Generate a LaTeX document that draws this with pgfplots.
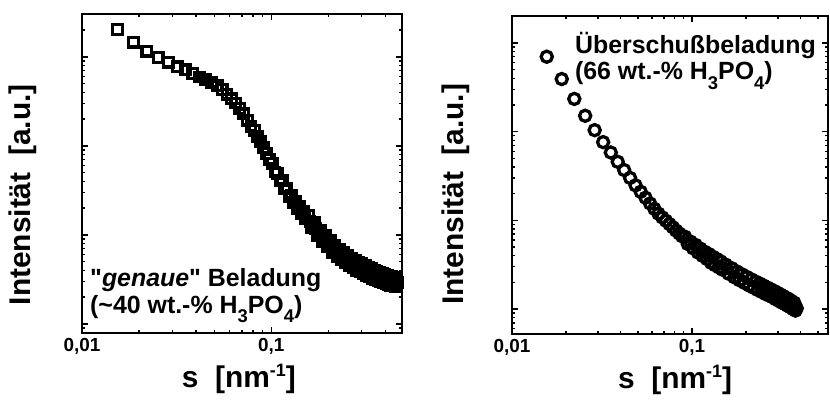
\documentclass[border=0pt]{standalone}
\usepackage{fontspec}
\setmainfont{Liberation Sans}
\usepackage{pgfplots}
\pgfplotsset{compat=1.18}

\newcommand\chemsub[1]{\raisebox{-9.5bp}{\fontsize{18.5}{18.5}\selectfont #1}}
\newcommand\notefont{\fontsize{25}{25}\selectfont\bfseries}

\pgfplotsset{saxs/.style={
  scale only axis,
  xtick={0.01,0.1}, xticklabels={{0,01},{0,1}},
  minor xtick={0.02,0.03,0.04,0.05,0.06,0.07,0.08,0.09,0.2,0.3,0.4,0.5},
  ytick={1,10,100,1000}, yticklabel=\empty,
  minor ytick={0.6,0.7,0.8,0.9,2,3,4,5,6,7,8,9,20,30,40,50,60,70,80,90,200,300,400,500,600,700,800,900,2000,3000},
  tick align=inside,
  axis line style={line width=2.2pt},
  major tick length=6pt, minor tick length=3.5pt,
  every tick/.style={black, line width=1.5pt},
  tick label style={font=\fontsize{19}{19}\selectfont\bfseries},
  xticklabel style={yshift=-2pt},
  label style={font=\fontsize{30}{30}\selectfont\bfseries},
  xlabel={s\ \ [nm\raisebox{11bp}{\fontsize{18}{18}\selectfont -1}]},
  ylabel={Intensität\ \ [a.u.]},
}}

\begin{document}
\begin{tikzpicture}
\useasboundingbox (0,0) rectangle (830bp,403bp);

% left panel: "genaue" Beladung
\begin{loglogaxis}[saxs, at={(82bp,70bp)}, anchor=south west,
  width=320bp, height=319bp,
  xmin=0.01, xmax=0.49, ymin=0.79, ymax=3040,
  ylabel style={at={(axis description cs:-0.184,0.433)}, anchor=center},
  xlabel style={at={(axis description cs:0.49,-0.172)}, anchor=base}]
\addplot[only marks, mark=square, mark size=4.8pt, black, line width=3.3pt] coordinates {
(0.0154,2042) (0.0187,1462) (0.0220,1161) (0.0253,989) (0.0286,871)
(0.0319,776) (0.0352,716) (0.0385,653) (0.0418,596) (0.0451,556)
(0.0484,519) (0.0517,473) (0.0550,432) (0.0583,380) (0.0616,339)
(0.0649,304) (0.0682,263) (0.0715,229) (0.0748,195) (0.0781,166)
(0.0814,150) (0.0847,129) (0.0880,111) (0.0913,95.5) (0.0946,82.2)
(0.0979,70.8) (0.1012,64) (0.1045,51) (0.1078,49.5) (0.1111,40.5)
(0.1144,40.8) (0.1177,33.4) (0.1210,33.5) (0.1243,27.2) (0.1276,27.9)
(0.1309,23.0) (0.1342,24.0) (0.1375,19.9) (0.1408,21.0) (0.1441,17.3)
(0.1474,18.6) (0.1507,15.4)
(0.157,16.6) (0.160,14.1) (0.163,12.0) (0.166,12.9) (0.169,13.8) (0.172,11.7)
(0.175,9.88) (0.178,10.6) (0.181,11.3) (0.184,9.77) (0.187,8.40) (0.190,9.12)
(0.193,9.87) (0.196,8.51) (0.199,7.32) (0.202,7.94) (0.205,8.59) (0.208,7.41)
(0.211,6.37) (0.214,6.96) (0.217,7.57) (0.220,6.61) (0.223,5.75) (0.226,6.31)
(0.229,6.91) (0.232,6.03) (0.235,5.24) (0.238,5.75) (0.241,6.29) (0.244,5.52)
(0.247,4.83) (0.250,5.34) (0.253,5.88) (0.256,5.16) (0.259,4.51) (0.262,4.98)
(0.265,5.49) (0.268,4.84) (0.271,4.26) (0.274,4.70) (0.277,5.17) (0.280,4.57)
(0.283,4.02) (0.286,4.47) (0.289,4.95) (0.292,4.37) (0.295,3.84) (0.298,4.27)
(0.301,4.73) (0.304,4.17) (0.307,3.67) (0.310,4.07) (0.313,4.51) (0.316,3.98)
(0.319,3.51) (0.322,3.90) (0.325,4.33) (0.328,3.83) (0.331,3.38) (0.334,3.76)
(0.337,4.18) (0.340,3.70) (0.343,3.27) (0.346,3.64) (0.349,4.04) (0.352,3.58)
(0.355,3.16) (0.358,3.52) (0.361,3.92) (0.364,3.47) (0.367,3.07) (0.370,3.42)
(0.373,3.81) (0.376,3.38) (0.379,2.99) (0.382,3.33) (0.385,3.71) (0.388,3.29)
(0.391,2.91) (0.394,3.24) (0.397,3.61) (0.400,3.20) (0.403,2.83) (0.406,3.16)
(0.409,3.53) (0.412,3.13) (0.415,2.77) (0.418,3.09) (0.421,3.45) (0.424,3.06)
(0.427,2.71) (0.430,3.03) (0.433,3.38) (0.436,3.01) (0.439,2.67) (0.442,2.99)
(0.445,3.34) (0.448,2.97) (0.451,2.63) (0.454,2.96) (0.457,3.1) (0.463,2.95)
};
\node[anchor=base west, inner sep=0, font=\notefont] at (axis description cs:0.025,0.145) {\textquotedbl\textit{genaue}\textquotedbl\ Beladung};
\node[anchor=base west, inner sep=0, font=\notefont] at (axis description cs:0.025,0.062) {(\textasciitilde 40 wt.-\% H\chemsub{3}PO\chemsub{4})};
\end{loglogaxis}

% right panel: Ueberschussbeladung
\begin{loglogaxis}[saxs, at={(512bp,69bp)}, anchor=south west,
  width=316bp, height=318bp,
  xmin=0.01, xmax=0.57, ymin=0.523, ymax=2014,
  ylabel style={at={(axis description cs:-0.177,0.439)}, anchor=center},
  xlabel style={at={(axis description cs:0.516,-0.170)}, anchor=base}]
\addplot[only marks, mark=o, mark size=5.6pt, black, line width=3.3pt] coordinates {
(0.0156,700) (0.0189,392) (0.0222,234) (0.0255,151) (0.0288,104)
(0.0321,76.2) (0.0354,58.2) (0.0387,45.7) (0.0420,36.9) (0.0453,30.1)
(0.0486,24.8) (0.0519,21.0) (0.0552,18.0) (0.0585,15.5) (0.0618,13.5)
(0.0651,11.9) (0.0684,10.8) (0.0717,9.89) (0.0750,9.08) (0.0783,8.36)
(0.0816,7.67) (0.0849,7.13) (0.0882,6.61) (0.0915,6.54) (0.0948,5.41)
(0.0981,5.76) (0.1014,4.84) (0.1047,5.29) (0.1080,4.33) (0.1113,4.81)
(0.1146,3.97) (0.1179,4.42) (0.1212,3.66) (0.1245,4.16) (0.1278,3.32)
(0.1311,3.88) (0.1344,3.12) (0.1377,3.66) (0.1410,2.95) (0.1443,3.45)
(0.1476,2.78)
(0.154,3.17) (0.160,2.50) (0.166,2.89) (0.172,2.28) (0.178,2.65)
(0.184,2.11) (0.190,2.46) (0.196,1.97) (0.202,2.30) (0.208,1.84)
(0.214,2.16) (0.220,1.74) (0.226,2.04) (0.232,1.64) (0.238,1.94)
(0.244,1.56) (0.250,1.84) (0.256,1.48) (0.262,1.75) (0.268,1.42)
(0.274,1.67) (0.280,1.36) (0.286,1.60) (0.292,1.29) (0.298,1.53)
(0.304,1.24) (0.310,1.46) (0.316,1.18) (0.322,1.40) (0.328,1.14)
(0.334,1.34) (0.340,1.09) (0.346,1.29) (0.352,1.05) (0.358,1.23)
(0.364,1.00) (0.370,1.18) (0.376,0.96) (0.382,1.02)
};
\node[anchor=base west, inner sep=0, font=\notefont] at (axis description cs:0.199,0.883) {Überschußbeladung};
\node[anchor=base west, inner sep=0, font=\notefont] at (axis description cs:0.199,0.799) {(66 wt.-\% H\chemsub{3}PO\chemsub{4})};
\end{loglogaxis}
\end{tikzpicture}
\end{document}
